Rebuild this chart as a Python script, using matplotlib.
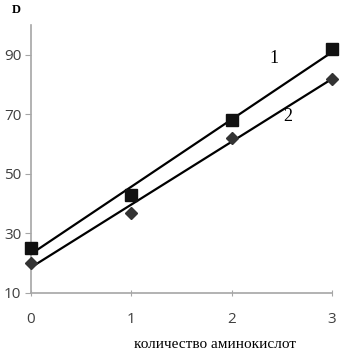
import numpy as np
import matplotlib.pyplot as plt

# data
amino = [0, 1, 2, 3]
series1 = [25, 43, 68, 92]
series2 = [20, 37, 62, 82]
yticks = [10, 30, 50, 70, 90]
xticks = [0, 1, 2, 3]

fig = plt.figure(figsize=(3.41, 3.52), dpi=100)
ax = fig.add_axes([31 / 341, 1 - 293 / 352, 301 / 341, 268 / 352])

x = np.array(amino, dtype=float)
for ys, mk, ms, col in [(series1, 's', 9, '#111111'), (series2, 'D', 6.5, '#333333')]:
    k, b = np.polyfit(x, ys, 1)
    ax.plot([0, 3], [b, b + 3 * k], color='black', lw=1.6, clip_on=False, zorder=2)
    ax.plot(x, ys, ls='none', marker=mk, ms=ms, color=col, clip_on=False, zorder=3)

ax.set_xlim(0, 3)
ax.set_ylim(10, 100)
ax.set_xticks(xticks)
ax.set_yticks(yticks)
for s in ['top', 'right']:
    ax.spines[s].set_visible(False)
for s in ['left', 'bottom']:
    ax.spines[s].set_color('#a6a6a6')
    ax.spines[s].set_linewidth(1.2)
ax.tick_params(axis='y', length=4, color='#a6a6a6', labelsize=11,
               labelcolor='#404040', pad=3)
ax.tick_params(axis='x', length=4, direction='inout', color='#a6a6a6',
               labelsize=11, labelcolor='#404040', pad=12)
for lab in ax.get_xticklabels() + ax.get_yticklabels():
    lab.set_family('Open Sans')

ax.text(2.42, 88.8, '1', family='Liberation Serif', fontsize=13, ha='center', va='center')
ax.text(2.56, 69.3, '2', family='Liberation Serif', fontsize=13, ha='center', va='center')

fig.text(16 / 341, 1 - 10 / 352, 'D', family='Liberation Serif', fontweight='bold',
         fontsize=9, ha='center', va='center')
fig.text(215 / 341, 1 - 345 / 352, 'количество аминокислот', family='Liberation Serif',
         fontsize=11, ha='center', va='center')

fig.savefig('out.png', dpi=100)
